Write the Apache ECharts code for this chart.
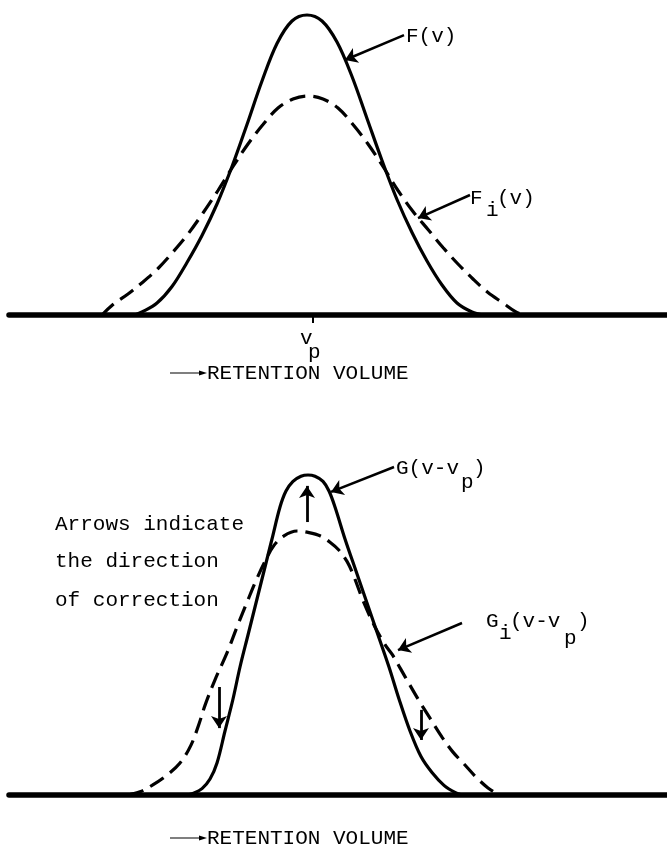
<!DOCTYPE html>
<html>
<head>
<meta charset="utf-8">
<script src="https://cdn.jsdelivr.net/npm/echarts@6/dist/echarts.min.js"></script>
<style>
  html, body { margin: 0; padding: 0; background: #fff; }
  #chart { width: 667px; height: 849px; }
</style>
</head>
<body>
<div id="chart"></div>
<script>
// Retention volume measured from the peak position v_p (arbitrary units),
// response normalised to the height of the corrected peak.

// Upper plot: F(v) and the instrumentally broadened Fi(v)
const volumeF = [-17.8, -17.1, -15.6, -14.1, -12.6, -11.1, -9.6, -8.1, -6.6, -5.1, -3.6, -2.1, -0.6,
                 0.9, 2.4, 3.9, 5.4, 6.9, 8.4, 9.9, 11.4, 12.9, 14.4, 15.9, 17.0];
const responseF = [0, 0.01, 0.04, 0.095, 0.175, 0.265, 0.37, 0.495, 0.635, 0.78, 0.905, 0.98, 1.0,
                   0.98, 0.91, 0.795, 0.655, 0.515, 0.385, 0.275, 0.18, 0.1, 0.04, 0.01, 0];

const volumeFi = [-21.1, -20.0, -18.5, -17.0, -15.5, -14.0, -12.5, -11.0, -9.5, -8.0, -6.5, -5.0, -3.5, -2.0, -0.5,
                  1.0, 2.5, 4.0, 5.5, 7.0, 8.5, 10.0, 11.5, 13.0, 14.5, 16.0, 17.5, 19.0, 20.2, 21.0];
const responseFi = [0, 0.035, 0.07, 0.11, 0.155, 0.21, 0.27, 0.34, 0.415, 0.495, 0.57, 0.635, 0.69, 0.72, 0.73,
                    0.72, 0.69, 0.635, 0.57, 0.495, 0.415, 0.345, 0.285, 0.225, 0.17, 0.12, 0.075, 0.04, 0.012, 0];

// Lower plot: G(v - v_p) and its estimate Gi(v - v_p)
const volumeG = [-12.6, -12.0, -11.1, -10.3, -9.6, -8.8, -8.0, -7.3, -6.5, -5.7, -4.9, -4.1, -3.3, -2.7, -2.0, -1.2, -0.5,
                 0.2, 1.0, 1.6, 2.2, 3.2, 4.3, 5.4, 6.5, 7.6, 8.6, 9.7, 10.8, 11.9, 13.1, 14.2, 14.9];
const responseG = [0, 0.005, 0.02, 0.05, 0.1, 0.2, 0.3, 0.4, 0.5, 0.6, 0.7, 0.8, 0.9, 0.95, 0.98, 0.996, 1.0,
                   0.996, 0.98, 0.95, 0.9, 0.8, 0.7, 0.6, 0.5, 0.4, 0.3, 0.2, 0.12, 0.07, 0.03, 0.008, 0];

const volumeGi = [-18.5, -17.3, -16.1, -14.7, -13.3, -12.2, -11.4, -10.8, -9.8, -8.6, -7.6, -6.5, -5.7, -4.8, -3.9, -2.9, -1.6,
                  -0.4, 0.7, 1.7, 2.6, 3.4, 4.0, 5.1, 6.2, 7.2, 7.9, 9.2, 10.5, 11.7, 12.9, 14.0, 15.1, 16.3, 17.5, 18.6];
const responseGi = [0, 0.01, 0.03, 0.06, 0.1, 0.156, 0.222, 0.28, 0.36, 0.444, 0.525, 0.61, 0.67, 0.73, 0.78, 0.81, 0.825,
                    0.82, 0.81, 0.79, 0.765, 0.73, 0.69, 0.6, 0.525, 0.47, 0.44, 0.37, 0.3, 0.24, 0.181, 0.134, 0.097, 0.056, 0.022, 0];

// Pointer arrows [from, to] in (volume, response) units
const upperPointers = [
  [[9.1, 0.933], [3.2, 0.85]],    // to F(v)
  [[15.7, 0.40], [10.5, 0.323]]   // to Fi(v)
];
const lowerPointers = [
  [[8.1, 1.025], [1.8, 0.947]],   // to G(v-vp)
  [[14.9, 0.5375], [8.5, 0.453]]  // to Gi(v-vp)
];
// Direction of correction
const correctionArrows = [
  [[-0.6, 0.853], [-0.6, 0.966]],
  [[-9.4, 0.3375], [-9.4, 0.209]],
  [[10.8, 0.266], [10.8, 0.172]]
];

const peakTick = [0];
const axisTitle = 'RETENTION VOLUME';
const noteLines = ['Arrows indicate', 'the direction', 'of correction'];

const pairs = (xs, ys) => xs.map((x, i) => [x, ys[i]]);

const MONO = '"Liberation Mono", "DejaVu Sans Mono", monospace';
const txt = (x, y, text, size) => ({
  type: 'text', x: x, y: y, silent: true,
  style: { text: text, font: (size || 21) + 'px ' + MONO, fill: '#000', align: 'left', verticalAlign: 'middle' }
});
const titleArrow = (y) => ([
  { type: 'line', silent: true, shape: { x1: 170, y1: y, x2: 203, y2: y }, style: { stroke: '#000', lineWidth: 1.2 } },
  { type: 'polygon', silent: true, shape: { points: [[207, y], [199, y - 2.6], [199, y + 2.6]] }, style: { fill: '#000' } }
]);

const xAxisBase = (showTick) => ({
  type: 'value', min: -30.4, max: 35.4,
  axisLine: { show: true, onZero: false, lineStyle: { color: '#000', width: 5.5 } },
  axisTick: showTick ? { show: true, customValues: peakTick, length: 8, lineStyle: { color: '#000', width: 2 } } : { show: false },
  axisLabel: { show: false },
  splitLine: { show: false }
});
const yAxisBase = () => ({ type: 'value', min: 0, max: 1, show: false, splitLine: { show: false } });

const solidStyle = { color: '#000', width: 3.2 };
const dashedStyle = { color: '#000', width: 3.2, type: [16, 8] };

const curve = (idx, data, style) => ({
  type: 'line', xAxisIndex: idx, yAxisIndex: idx, data: data, smooth: 0.35,
  showSymbol: false, symbol: 'none', clip: false, silent: true,
  lineStyle: style, animation: false, z: 3
});
const arrows = (idx, list, width) => ({
  type: 'lines', coordinateSystem: 'cartesian2d', xAxisIndex: idx, yAxisIndex: idx,
  clip: false, silent: true, animation: false,
  symbol: ['none', 'arrow'], symbolSize: 12,
  lineStyle: { color: '#000', width: width, opacity: 1, curveness: 0 },
  data: list.map(c => ({ coords: c })), z: 4
});

const chart = echarts.init(document.getElementById('chart'), null, { renderer: 'canvas' });
chart.setOption({
  backgroundColor: '#fff',
  animation: false,
  grid: [
    { left: 9, right: 0, top: 15, height: 300 },
    { left: 9, right: 0, top: 475, height: 320 }
  ],
  xAxis: [xAxisBase(true), Object.assign(xAxisBase(false), { gridIndex: 1 })],
  yAxis: [yAxisBase(), Object.assign(yAxisBase(), { gridIndex: 1 })],
  series: [
    curve(0, pairs(volumeF, responseF), solidStyle),
    curve(0, pairs(volumeFi, responseFi), dashedStyle),
    curve(1, pairs(volumeG, responseG), solidStyle),
    curve(1, pairs(volumeGi, responseGi), dashedStyle),
    arrows(0, upperPointers, 2.5),
    arrows(1, lowerPointers, 2.5),
    arrows(1, correctionArrows, 2.8)
  ],
  graphic: [
    txt(406, 36, 'F(v)'),
    txt(470, 198, 'F'), txt(486, 210, 'i'), txt(497, 198, '(v)'),
    txt(300, 338, 'v'), txt(308, 352, 'p'),
    ...titleArrow(373), txt(207, 373, axisTitle),
    txt(55, 524, noteLines[0]), txt(55, 561, noteLines[1]), txt(55, 600, noteLines[2]),
    txt(396, 468, 'G(v-v'), txt(461, 482, 'p'), txt(473, 468, ')'),
    txt(486, 621, 'G'), txt(499, 633, 'i'), txt(510, 621, '(v-v'), txt(564, 638, 'p'), txt(577, 621, ')'),
    ...titleArrow(838), txt(207, 838, axisTitle)
  ]
});
</script>
</body>
</html>
